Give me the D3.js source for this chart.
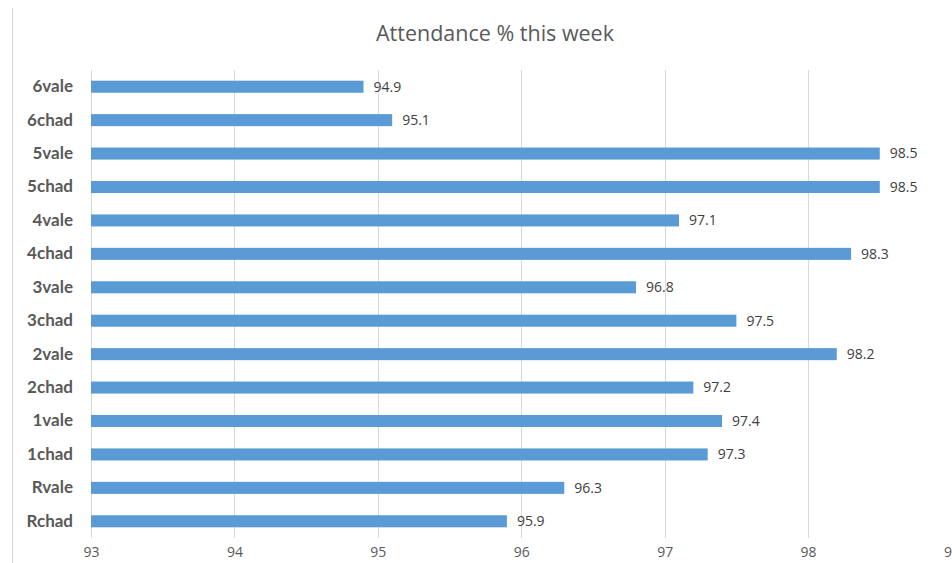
<!DOCTYPE html>
<html>
<head>
<meta charset="utf-8">
<script src="https://cdn.jsdelivr.net/npm/d3@7"></script>
<style>
html,body{margin:0;padding:0;background:#fff;}
svg{display:block;}
</style>
</head>
<body>
<svg id="chart" width="952" height="563"></svg>
<script>
const categories = ["6vale","6chad","5vale","5chad","4vale","4chad","3vale","3chad","2vale","2chad","1vale","1chad","Rvale","Rchad"];
const values = [94.9,95.1,98.5,98.5,97.1,98.3,96.8,97.5,98.2,97.2,97.4,97.3,96.3,95.9];
const xTicks = [93,94,95,96,97,98,99];
const title = "Attendance % this week";

const svg = d3.select("#chart");
const W = 952, H = 563;

svg.append("rect").attr("width", W).attr("height", H).attr("fill", "#fff");
// chart area border (left edge visible)
svg.append("line").attr("x1", 12.5).attr("x2", 12.5).attr("y1", 8).attr("y2", H)
  .attr("stroke", "#d9d9d9").attr("stroke-width", 1);

const x = d3.scaleLinear().domain([93, 99]).range([91, 951.5]);
const y = d3.scaleBand().domain(categories).range([70, 538]).paddingInner(0.64).paddingOuter(0.32);

// gridlines
svg.append("g").selectAll("line").data(xTicks).join("line")
  .attr("x1", d => Math.round(x(d)) + 0.5).attr("x2", d => Math.round(x(d)) + 0.5)
  .attr("y1", 70).attr("y2", 538)
  .attr("stroke", "#d9d9d9").attr("stroke-width", 1);

// x axis labels
const xAxis = d3.axisBottom(x).tickValues(xTicks).tickSize(0).tickPadding(0).tickFormat(d3.format("d"));
const gx = svg.append("g").attr("transform", "translate(0,547)").call(xAxis);
gx.select(".domain").remove();
gx.selectAll("text").attr("fill", "#595959").style("font-family", "'Open Sans', sans-serif").style("font-size", "14px");

// y axis labels
const yAxis = d3.axisLeft(y).tickSize(0).tickPadding(0);
const gy = svg.append("g").attr("transform", "translate(73,0)").call(yAxis);
gy.select(".domain").remove();
gy.selectAll("text").attr("fill", "#595959").style("font-family", "Lato, sans-serif").style("font-weight", "bold").style("font-size", "17px");

// bars
svg.append("g").selectAll("rect").data(values).join("rect")
  .attr("x", x(93))
  .attr("y", (d, i) => y(categories[i]))
  .attr("width", d => x(d) - x(93))
  .attr("height", y.bandwidth())
  .attr("fill", "#5b9bd5");

// value labels
svg.append("g").selectAll("text").data(values).join("text")
  .attr("x", d => x(d) + 10)
  .attr("y", (d, i) => y(categories[i]) + y.bandwidth() / 2)
  .attr("dy", "0.35em")
  .attr("fill", "#404040")
  .style("font-family", "'Open Sans', sans-serif").style("font-size", "14px")
  .text(d => d3.format(".1f")(d));

// title
svg.append("text").attr("x", 495).attr("y", 41).attr("text-anchor", "middle")
  .attr("fill", "#595959").style("font-family", "'Open Sans', sans-serif").style("font-size", "21.5px")
  .text(title);
</script>
</body>
</html>
